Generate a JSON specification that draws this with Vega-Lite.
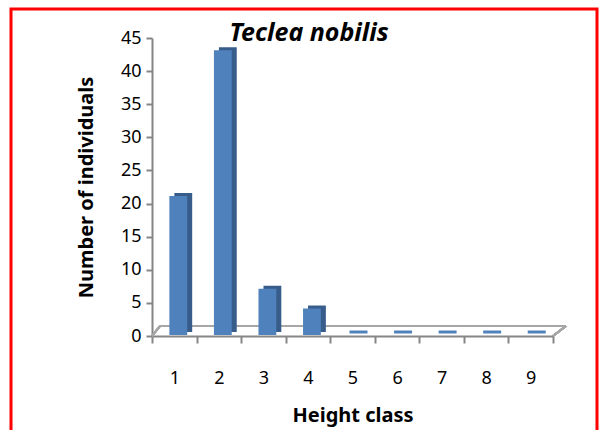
{
  "$schema": "https://vega.github.io/schema/vega-lite/v6.json",
  "width": 586,
  "height": 421,
  "autosize": {"type": "none"},
  "padding": {"left": 11, "top": 9, "right": 4, "bottom": 0},
  "background": "white",
  "config": {
    "view": {"stroke": "#FF0000", "strokeWidth": 3, "strokeDash": [1007, 586, 600]},
    "font": "Noto Sans"
  },
  "title": {"text": "Teclea nobilis", "font": "Noto Sans", "fontSize": 25, "fontStyle": "italic", "fontWeight": "bold", "color": "black", "offset": -37, "dx": 5},
  "data": {"values": [
    {"class": "1", "count": 21},
    {"class": "2", "count": 43},
    {"class": "3", "count": 7},
    {"class": "4", "count": 4},
    {"class": "5", "count": 0},
    {"class": "6", "count": 0},
    {"class": "7", "count": 0},
    {"class": "8", "count": 0},
    {"class": "9", "count": 0}
  ]},
  "encoding": {
    "x": {
      "field": "class", "type": "ordinal",
      "scale": {"range": [141, 542], "paddingInner": 0, "paddingOuter": 0},
      "axis": {
        "orient": "bottom", "offset": -94,
        "domainColor": "#868686", "domainWidth": 2,
        "tickColor": "#868686", "tickWidth": 2, "tickSize": 7, "tickBand": "extent",
        "labelAngle": 0, "labelPadding": 26, "labelFontSize": 18, "labelColor": "#000000", "labelFont": "Noto Sans",
        "title": "Height class", "titleFontSize": 20, "titleFontWeight": "bold", "titleColor": "#000000", "titleFont": "Noto Sans", "titlePadding": 18
      }
    },
    "y": {
      "field": "count", "type": "quantitative",
      "scale": {"domain": [0, 45], "range": [327, 29], "nice": false, "zero": true},
      "axis": {
        "orient": "left", "offset": -141,
        "values": [0, 5, 10, 15, 20, 25, 30, 35, 40, 45],
        "grid": false,
        "domainColor": "#868686", "domainWidth": 2,
        "tickColor": "#868686", "tickWidth": 2, "tickSize": 6,
        "labelPadding": 5, "labelFontSize": 18, "labelColor": "#000000", "labelFont": "Noto Sans",
        "title": "Number of individuals", "titleFontSize": 20, "titleFontWeight": "bold", "titleColor": "#000000", "titleFont": "Noto Sans", "titlePadding": 24
      }
    }
  },
  "layer": [
    {
      "mark": {"type": "rule", "color": "#A6A6A6", "strokeWidth": 2, "yOffset": -10, "y2Offset": -10, "xOffset": 8, "x2Offset": 13},
      "encoding": {
        "x": {"datum": "1", "bandPosition": 0},
        "x2": {"datum": "9", "bandPosition": 1},
        "y": {"datum": 0},
        "y2": {"datum": 0}
      }
    },
    {
      "mark": {"type": "rule", "color": "#A6A6A6", "strokeWidth": 2, "y2Offset": -10, "x2Offset": 13},
      "encoding": {
        "x": {"datum": "9", "bandPosition": 1},
        "x2": {"datum": "9", "bandPosition": 1},
        "y": {"datum": 0},
        "y2": {"datum": 0}
      }
    },
    {
      "mark": {"type": "rule", "color": "#A6A6A6", "strokeWidth": 2, "y2Offset": -10, "x2Offset": 8},
      "encoding": {
        "x": {"datum": "1", "bandPosition": 0},
        "x2": {"datum": "1", "bandPosition": 0},
        "y": {"datum": 0},
        "y2": {"datum": 0}
      }
    },
    {
      "transform": [{"filter": "datum.count == 0"}],
      "mark": {"type": "tick", "color": "#4F81BD", "opacity": 1, "thickness": 3, "size": 18, "xOffset": 6, "yOffset": -4}
    },
    {
      "transform": [{"filter": "datum.count > 0"}],
      "mark": {"type": "bar", "color": "#385D8A", "width": {"band": 0.4}, "xOffset": 9, "x2Offset": 9, "yOffset": -4, "y2Offset": -6}
    },
    {
      "transform": [{"filter": "datum.count > 0"}],
      "mark": {"type": "bar", "color": "#4F81BD", "width": {"band": 0.4}, "xOffset": 4, "x2Offset": 4, "yOffset": -1, "y2Offset": -3}
    }
  ]
}
